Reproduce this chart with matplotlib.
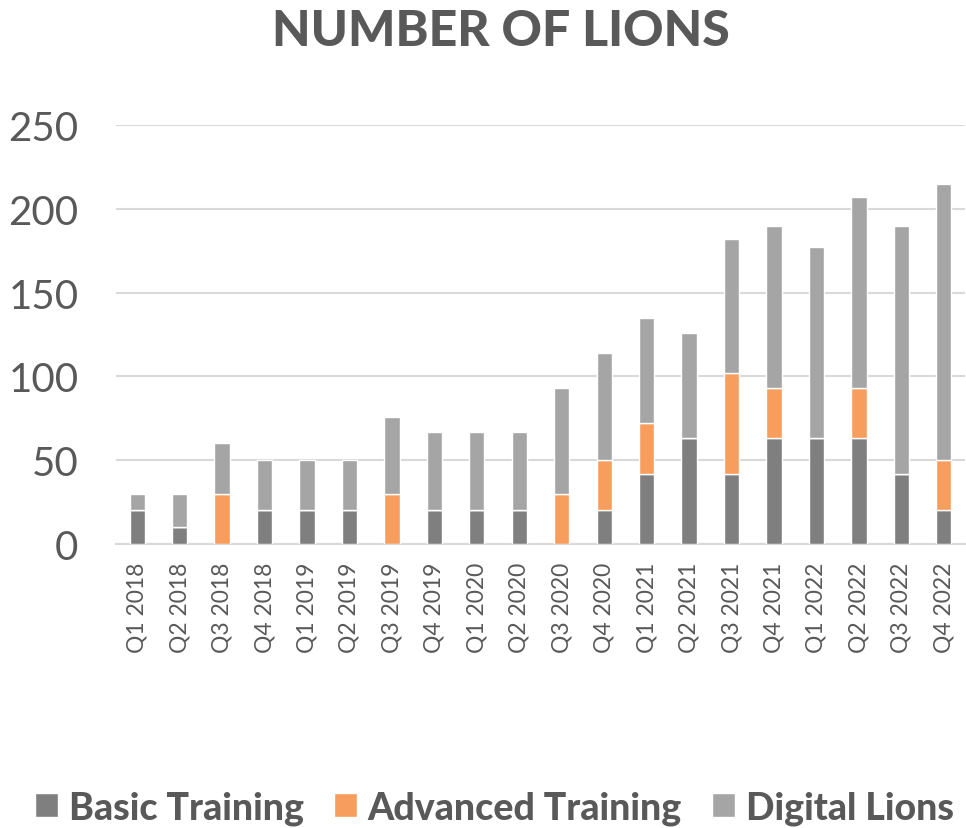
import numpy as np
import matplotlib.pyplot as plt

quarters = ["Q1 2018", "Q2 2018", "Q3 2018", "Q4 2018",
            "Q1 2019", "Q2 2019", "Q3 2019", "Q4 2019",
            "Q1 2020", "Q2 2020", "Q3 2020", "Q4 2020",
            "Q1 2021", "Q2 2021", "Q3 2021", "Q4 2021",
            "Q1 2022", "Q2 2022", "Q3 2022", "Q4 2022"]
basic = [20, 10, 0, 20, 20, 20, 0, 20, 20, 20, 0, 20, 42, 63, 42, 63, 63, 63, 42, 20]
advanced = [0, 0, 30, 0, 0, 0, 30, 0, 0, 0, 30, 30, 30, 0, 60, 30, 0, 30, 0, 30]
digital = [10, 20, 30, 30, 30, 30, 46, 47, 47, 47, 63, 64, 63, 63, 80, 97, 114, 114, 148, 165]

plt.rcParams['font.family'] = ['Lato', 'DejaVu Sans']
txt = '#595959'

fig = plt.figure(figsize=(9.66, 8.29), dpi=100)
ax = fig.add_axes([0.120, 0.3426, 0.879, 0.5054])

x = np.arange(len(quarters))
b = np.array(basic)
a = np.array(advanced)
d = np.array(digital)
w = 0.36
ax.bar(x, b, w, color='#7f7f7f', edgecolor='white', linewidth=1, label='Basic Training', zorder=3)
ax.bar(x, a, w, bottom=b, color='#f79e5e', edgecolor='white', linewidth=1, label='Advanced Training', zorder=3)
ax.bar(x, d, w, bottom=b + a, color='#a5a5a5', edgecolor='white', linewidth=1, label='Digital Lions', zorder=3)

ax.set_xlim(-0.5, len(quarters) - 0.5)
ax.set_ylim(0, 250)
ax.set_yticks(range(0, 251, 50))
ax.set_xticks(x)
ax.set_xticklabels(quarters, rotation=90, fontsize=16.5, color=txt)
ax.tick_params(axis='y', length=0, pad=27, labelsize=29, labelcolor=txt)
ax.tick_params(axis='x', length=0, pad=13)
ax.grid(axis='y', color='#d9d9d9', linewidth=1.5, zorder=0)
for s in ['top', 'right', 'left']:
    ax.spines[s].set_visible(False)
ax.spines['bottom'].set_color('#d9d9d9')
ax.spines['bottom'].set_linewidth(1.5)

fig.text(0.519, 0.962, 'NUMBER OF LIONS', ha='center', va='center',
         fontsize=36, fontweight='black', color=txt)

leg = fig.legend(loc='center', bbox_to_anchor=(0.512, 0.025), ncol=3, frameon=False,
                 fontsize=27, handlelength=0.6, handleheight=0.6, handletextpad=0.3,
                 columnspacing=0.8)
for t in leg.get_texts():
    t.set_color(txt)
    t.set_fontweight('black')

fig.savefig('out.png', dpi=100)
